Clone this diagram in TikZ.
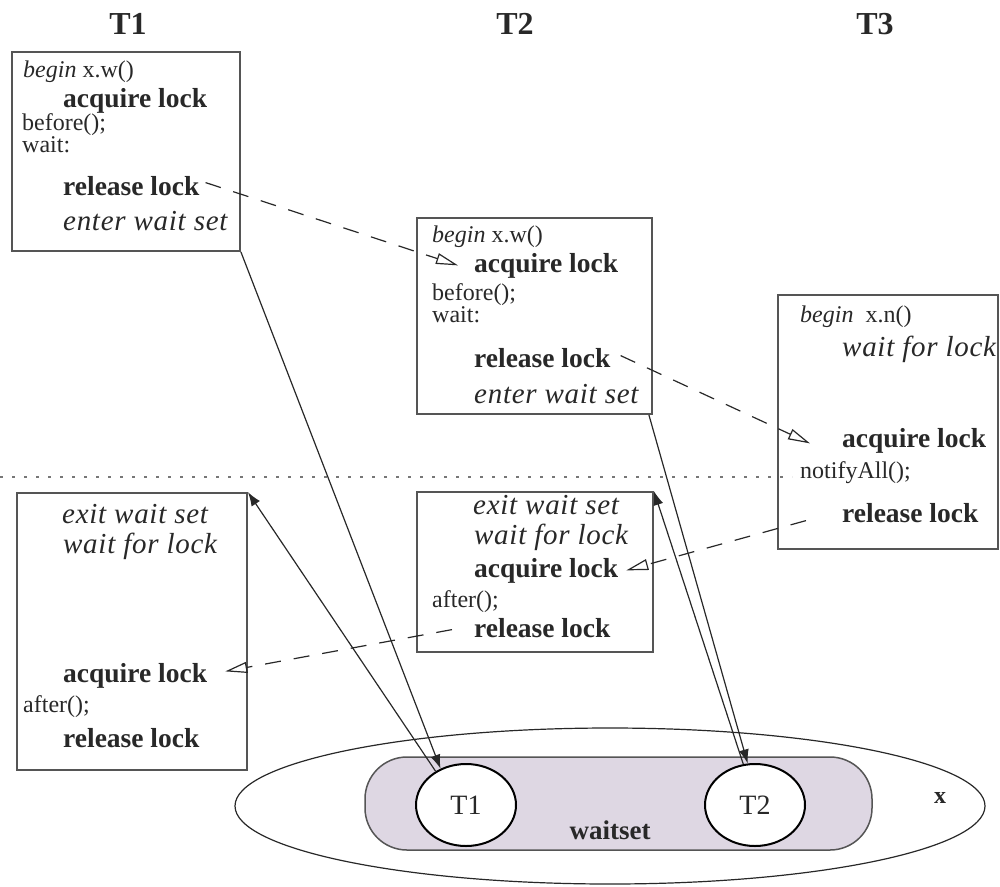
\documentclass[tikz,border=0pt]{standalone}
\usepackage{fontspec}
\setmainfont{Liberation Serif}
\usetikzlibrary{arrows.meta,shapes.geometric}
\definecolor{boxgray}{RGB}{85,85,85}
\definecolor{wsfill}{RGB}{222,215,227}
\definecolor{ink}{RGB}{40,40,40}
\begin{document}
\begin{tikzpicture}[x=1pt,y=-1pt,
  box/.style={draw=boxgray,line width=1.8pt,inner sep=0pt},
  txt/.style={anchor=base west,inner sep=0pt,text=ink},
  big/.style={txt,font=\fontsize{27.5}{30}\selectfont\bfseries},
  bigit/.style={txt,font=\fontsize{29}{32}\selectfont\itshape\addfontfeatures{LetterSpace=2.5}},
  small/.style={txt,font=\fontsize{24}{28}\selectfont},
  head/.style={inner sep=0pt,font=\fontsize{32}{36}\selectfont\bfseries,text=ink},
  flow/.style={draw=ink,line width=1.2pt,dash pattern=on 16pt off 13pt,-{Triangle[open,length=22pt,width=11pt]}},
  sol/.style={draw=ink,line width=1.2pt,-{Latex[length=14pt,width=10pt]}},
  thr/.style={ellipse,draw=black,line width=2pt,fill=white,minimum width=100pt,minimum height=82pt,inner sep=0pt,font=\fontsize{28}{30}\selectfont,text=ink}
]
\useasboundingbox (0,0) rectangle (1000,886);

% headers
\node[head] (h1) at (128,24) {T1};
\node[head] (h2) at (515,24) {T2};
\node[head] (h3) at (875,24) {T3};

% dotted separator
\coordinate (dotL) at (0,477);
\coordinate (dotR) at (792,477);
\draw[draw=boxgray!80,line width=2.2pt,dash pattern=on 3pt off 9pt] (dotL) -- (dotR);

% box A
\node[box,minimum width=228pt,minimum height=199pt] (boxA) at (126,151.5) {};
\node[small] (bA) at (23,77) {\textit{begin} x.w()};
\node[big] (acqA) at (63,107) {acquire lock};
\node[small] (befA) at (22,130) {before();};
\node[small] (waitA) at (22,152) {wait:};
\node[big] (relA) at (63,195) {release lock};
\node[bigit] (entA) at (63,230) {enter wait set};

% box B
\node[box,minimum width=235pt,minimum height=196pt] (boxB) at (534.5,316) {};
\node[small] (bB) at (432,242) {\textit{begin} x.w()};
\node[big] (acqB) at (474,272) {acquire lock};
\node[small] (befB) at (432,300) {before();};
\node[small] (waitB) at (432,322) {wait:};
\node[big] (relB) at (474,367) {release lock};
\node[bigit] (entB) at (474,403) {enter wait set};

% box C
\node[box,minimum width=220pt,minimum height=254pt] (boxC) at (888,422) {};
\node[small] (bC) at (800,322) {\textit{begin}\hspace{6pt} x.n()};
\node[bigit] (wfC) at (842,356) {wait for lock};
\node[big] (acqC) at (842,447) {acquire lock};
\node[small] (notC) at (800,478) {notifyAll();};
\node[big] (relC) at (842,522) {release lock};

% box D
\node[box,minimum width=230pt,minimum height=277pt] (boxD) at (132,631.5) {};
\node[bigit] (exD) at (62,523) {exit wait set};
\node[bigit] (wfD) at (63,553) {wait for lock};
\node[big] (acqD) at (63,682) {acquire lock};
\node[small] (aftD) at (23,712) {after();};
\node[big] (relD) at (63,747) {release lock};

% box E
\node[box,minimum width=236pt,minimum height=160pt] (boxE) at (535,572) {};
\node[bigit] (exE) at (473,514) {exit wait set};
\node[bigit] (wfE) at (474,544) {wait for lock};
\node[big] (acqE) at (474,577) {acquire lock};
\node[small] (aftE) at (432,607) {after();};
\node[big] (relE) at (474,637) {release lock};

% object x with wait set
\node[ellipse,draw=ink,line width=1.2pt,minimum width=750pt,minimum height=156pt,inner sep=0pt] (objx) at (610,806) {};
\node[draw=boxgray,line width=1.5pt,fill=wsfill,rounded corners=42pt,minimum width=507pt,minimum height=93pt,inner sep=0pt] (ws) at (618.5,803.5) {};
\node[thr] (c1) at (466,805) {T1};
\node[thr] (c2) at (755,805) {T2};
\node[inner sep=0pt,font=\fontsize{27}{30}\selectfont\bfseries,text=ink] (wsl) at (610,830) {waitset};
\node[inner sep=0pt,font=\fontsize{24}{26}\selectfont\bfseries,text=ink] (xl) at (940,798) {x};

% dashed lock hand-over arrows
\draw[flow] ([xshift=6pt,yshift=3pt]relA.east) -- ([xshift=-16pt]acqB.west);
\draw[flow] ([xshift=10pt,yshift=2pt]relB.east) -- ([xshift=-32pt,yshift=-3pt]acqC.west);
\draw[flow] ([xshift=-36pt,yshift=-8pt]relC.west) -- ([xshift=8pt]acqE.east);
\draw[flow] ([xshift=-22pt,yshift=-2pt]relE.west) -- ([xshift=18pt,yshift=4pt]acqD.east);

% solid wait-set arrows
\draw[sol] (boxA.south east) -- (c1.125);
\draw[sol] (c1.132) -- (boxD.north east);
\draw[sol] ([xshift=-4pt]boxB.south east) -- (c2.100);
\draw[sol] (c2.106) -- (boxE.north east);
\end{tikzpicture}
\end{document}
